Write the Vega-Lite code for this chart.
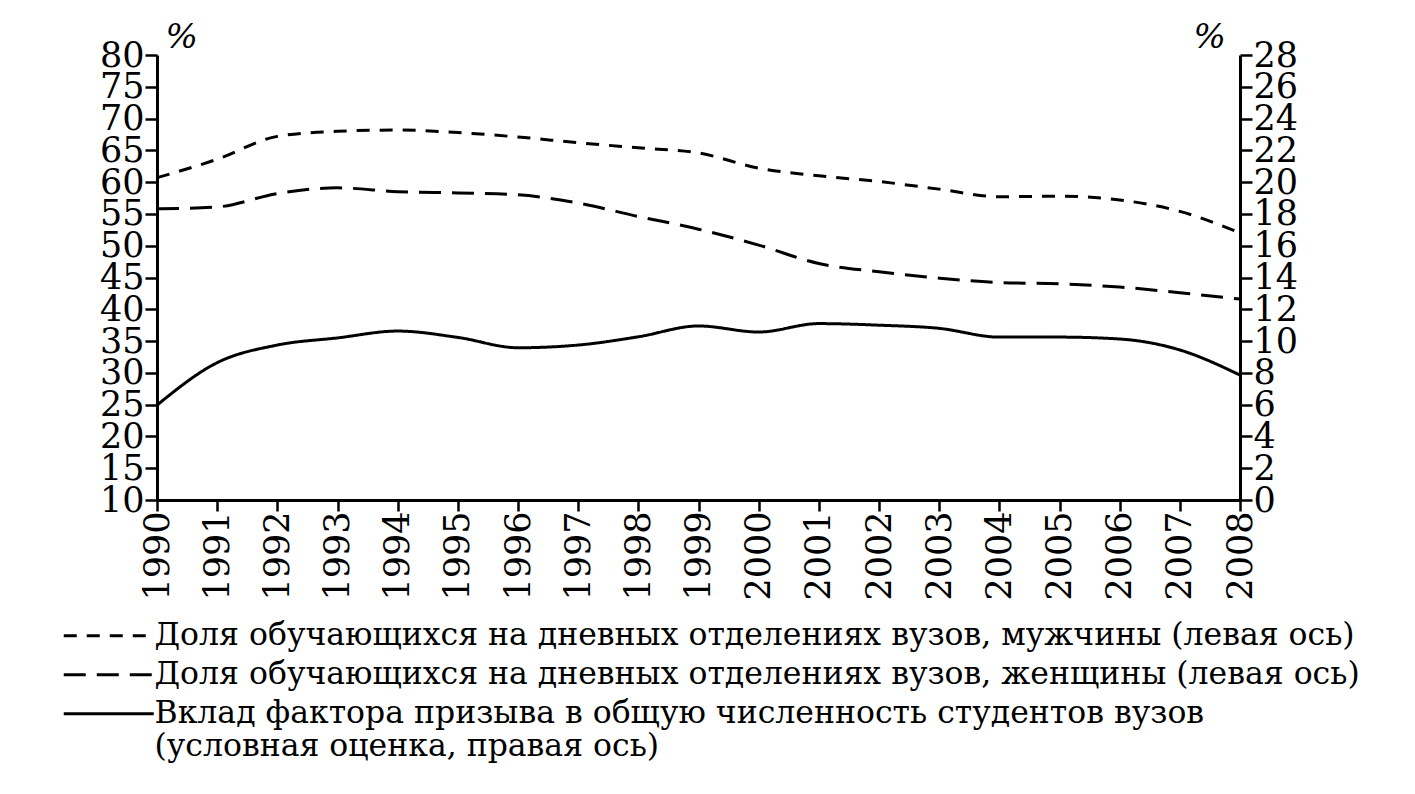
{
  "$schema": "https://vega.github.io/schema/vega-lite/v6.json",
  "width": 1083,
  "height": 445,
  "autosize": "none",
  "padding": {"left": 157, "top": 55, "right": 175, "bottom": 294},
  "background": "white",
  "config": {
    "view": {"stroke": null},
    "font": "DejaVu Serif",
    "axis": {
      "grid": false,
      "domainColor": "black",
      "domainWidth": 3,
      "tickColor": "black",
      "tickWidth": 2.5,
      "tickSize": 12,
      "labelColor": "black",
      "labelFont": "DejaVu Serif",
      "labelFontSize": 35,
      "titleColor": "black",
      "titleFont": "DejaVu Serif",
      "titleFontWeight": "normal"
    }
  },
  "data": {
    "values": [
      {"year": 1990, "series": "men", "value": 60.7},
      {"year": 1991, "series": "men", "value": 63.6},
      {"year": 1992, "series": "men", "value": 67.2},
      {"year": 1993, "series": "men", "value": 68.0},
      {"year": 1994, "series": "men", "value": 68.2},
      {"year": 1995, "series": "men", "value": 67.8},
      {"year": 1996, "series": "men", "value": 67.1},
      {"year": 1997, "series": "men", "value": 66.2},
      {"year": 1998, "series": "men", "value": 65.4},
      {"year": 1999, "series": "men", "value": 64.6},
      {"year": 2000, "series": "men", "value": 62.2},
      {"year": 2001, "series": "men", "value": 61.0},
      {"year": 2002, "series": "men", "value": 60.1},
      {"year": 2003, "series": "men", "value": 58.9},
      {"year": 2004, "series": "men", "value": 57.7},
      {"year": 2005, "series": "men", "value": 57.8},
      {"year": 2006, "series": "men", "value": 57.2},
      {"year": 2007, "series": "men", "value": 55.4},
      {"year": 2008, "series": "men", "value": 52.0},
      {"year": 1990, "series": "women", "value": 55.8},
      {"year": 1991, "series": "women", "value": 56.1},
      {"year": 1992, "series": "women", "value": 58.2},
      {"year": 1993, "series": "women", "value": 59.1},
      {"year": 1994, "series": "women", "value": 58.5},
      {"year": 1995, "series": "women", "value": 58.3},
      {"year": 1996, "series": "women", "value": 58.0},
      {"year": 1997, "series": "women", "value": 56.7},
      {"year": 1998, "series": "women", "value": 54.6},
      {"year": 1999, "series": "women", "value": 52.6},
      {"year": 2000, "series": "women", "value": 50.1},
      {"year": 2001, "series": "women", "value": 47.2},
      {"year": 2002, "series": "women", "value": 45.9},
      {"year": 2003, "series": "women", "value": 44.9},
      {"year": 2004, "series": "women", "value": 44.2},
      {"year": 2005, "series": "women", "value": 44.0},
      {"year": 2006, "series": "women", "value": 43.5},
      {"year": 2007, "series": "women", "value": 42.6},
      {"year": 2008, "series": "women", "value": 41.6},
      {"year": 1990, "series": "draft", "value": 5.97},
      {"year": 1991, "series": "draft", "value": 8.64},
      {"year": 1992, "series": "draft", "value": 9.75},
      {"year": 1993, "series": "draft", "value": 10.2},
      {"year": 1994, "series": "draft", "value": 10.63},
      {"year": 1995, "series": "draft", "value": 10.23},
      {"year": 1996, "series": "draft", "value": 9.58},
      {"year": 1997, "series": "draft", "value": 9.75},
      {"year": 1998, "series": "draft", "value": 10.27},
      {"year": 1999, "series": "draft", "value": 10.95},
      {"year": 2000, "series": "draft", "value": 10.57},
      {"year": 2001, "series": "draft", "value": 11.1},
      {"year": 2002, "series": "draft", "value": 11.0},
      {"year": 2003, "series": "draft", "value": 10.8},
      {"year": 2004, "series": "draft", "value": 10.25},
      {"year": 2005, "series": "draft", "value": 10.25},
      {"year": 2006, "series": "draft", "value": 10.13},
      {"year": 2007, "series": "draft", "value": 9.44},
      {"year": 2008, "series": "draft", "value": 7.86}
    ]
  },
  "encoding": {
    "x": {
      "field": "year",
      "type": "quantitative",
      "scale": {"domain": [1990, 2008], "nice": false, "zero": false},
      "axis": {
        "title": null,
        "values": [1990,1991,1992,1993,1994,1995,1996,1997,1998,1999,2000,2001,2002,2003,2004,2005,2006,2007,2008],
        "format": "d",
        "labelAngle": -90,
        "labelAlign": "right",
        "labelBaseline": "middle",
        "labelPadding": 0,
        "tickSize": 11,
        "labelFlush": false,
        "labelOverlap": false
      }
    }
  },
  "layer": [
    {
      "transform": [{"filter": "datum.series != 'draft'"}],
      "mark": {"type": "line", "color": "black", "strokeWidth": 3, "interpolate": "monotone"},
      "encoding": {
        "y": {
          "field": "value",
          "type": "quantitative",
          "scale": {"domain": [10, 80], "nice": false, "zero": false},
          "axis": {
            "orient": "left",
            "values": [10,15,20,25,30,35,40,45,50,55,60,65,70,75,80],
            "labelPadding": 1,
            "labelFlush": false,
            "labelOverlap": false,
            "title": "%",
            "titleAngle": 0,
            "titleAlign": "left",
            "titleBaseline": "alphabetic",
            "titleX": 8,
            "titleY": -8,
            "titleFontSize": 34,
            "titleFontStyle": "italic"
          }
        },
        "strokeDash": {
          "field": "series",
          "type": "nominal",
          "scale": {"domain": ["men", "women", "draft"], "range": [[13, 10], [22, 11], [1, 0]]},
          "legend": {
            "title": null,
            "orient": "none",
            "legendX": -97,
            "legendY": 565,
            "direction": "vertical",
            "symbolType": "M-1,0H6.5",
            "symbolSize": 576,
            "symbolStrokeWidth": 3,
            "symbolStrokeColor": "black",
            "labelFont": "DejaVu Serif",
            "labelFontSize": 31.5,
            "labelColor": "black",
            "labelLimit": 1400,
            "labelOffset": 63,
            "rowPadding": 6,
            "labelExpr": "datum.value == 'men' ? 'Доля обучающихся на дневных отделениях вузов, мужчины (левая ось)' : datum.value == 'women' ? 'Доля обучающихся на дневных отделениях вузов, женщины (левая ось)' : ['Вклад фактора призыва в общую численность студентов вузов', '(условная оценка, правая ось)']"
          }
        }
      }
    },
    {
      "transform": [{"filter": "datum.series == 'draft'"}],
      "mark": {"type": "line", "color": "black", "strokeWidth": 3, "interpolate": "monotone"},
      "encoding": {
        "y": {
          "field": "value",
          "type": "quantitative",
          "scale": {"domain": [0, 28], "nice": false, "zero": false},
          "axis": {
            "orient": "right",
            "values": [0,2,4,6,8,10,12,14,16,18,20,22,24,26,28],
            "labelPadding": 1,
            "labelFlush": false,
            "labelOverlap": false,
            "title": "%",
            "titleAngle": 0,
            "titleAlign": "left",
            "titleBaseline": "alphabetic",
            "titleX": -47,
            "titleY": -8,
            "titleFontSize": 34,
            "titleFontStyle": "italic"
          }
        },
        "strokeDash": {
          "field": "series",
          "type": "nominal",
          "scale": {"domain": ["men", "women", "draft"], "range": [[13, 10], [22, 11], [1, 0]]}
        }
      }
    }
  ],
  "resolve": {"scale": {"y": "independent"}}
}
